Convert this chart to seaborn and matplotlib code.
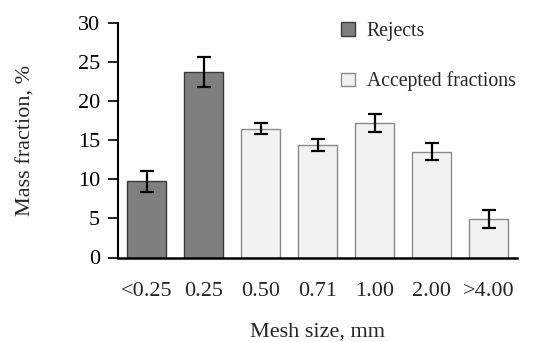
import matplotlib
matplotlib.use("Agg")
import matplotlib.pyplot as plt
import seaborn as sns
import pandas as pd
from matplotlib.patches import Patch

categories = ["<0.25", "0.25", "0.50", "0.71", "1.00", "2.00", ">4.00"]
values = [9.75, 23.75, 16.5, 14.4, 17.2, 13.55, 4.95]
errors = [1.35, 1.9, 0.7, 0.8, 1.1, 1.05, 1.15]
groups = ["Rejects", "Rejects", "Accepted fractions", "Accepted fractions",
          "Accepted fractions", "Accepted fractions", "Accepted fractions"]
yticks = [0, 5, 10, 15, 20, 25, 30]

sns.set_style("white")
plt.rcParams["font.family"] = ["Liberation Serif", "DejaVu Serif"]
plt.rcParams["font.size"] = 16

colors = {"Rejects": "#7f7f7f", "Accepted fractions": "#f2f2f2"}
edges = {"Rejects": "#3a3a3a", "Accepted fractions": "#8a8a8a"}

df = pd.DataFrame({"cat": categories, "val": values, "grp": groups})

fig = plt.figure(figsize=(5.39, 3.42), dpi=100)
ax = fig.add_axes([118 / 539, 1 - 257.5 / 342, (517 - 118) / 539, (257.5 - 23) / 342])
sns.barplot(data=df, x="cat", y="val", hue="grp", palette=colors, dodge=False,
            width=0.68, ax=ax, legend=False, errorbar=None)
for p, g in zip(sorted(ax.patches, key=lambda r: r.get_x()), groups):
    p.set_edgecolor(edges[g])
    p.set_linewidth(1.0)
ax.errorbar(range(len(categories)), values, yerr=errors, fmt="none",
            ecolor="black", elinewidth=1.6, capsize=5, capthick=1.6, zorder=5)

ax.set_xlim(-0.5, 6.5)
ax.set_ylim(0, 30)
ax.set_yticks(yticks)
ax.set_yticklabels([str(t) for t in yticks])
sns.despine(ax=ax)
ax.spines["left"].set_linewidth(1.5)
ax.spines["bottom"].set_linewidth(1.8)
ax.spines["left"].set_color("black")
ax.spines["bottom"].set_color("black")
ax.tick_params(axis="y", which="both", left=True, length=7, width=1.2, direction="out", pad=6, colors="black")
ax.tick_params(axis="x", bottom=False, pad=14)
ax.set_xlabel("Mesh size, mm", labelpad=16)
ax.set_ylabel("Mass fraction, %", labelpad=30)

handles = [Patch(facecolor=colors[g], edgecolor=edges[g], label=g)
           for g in ["Rejects", "Accepted fractions"]]
fig.legend(handles=handles, loc="upper left", bbox_to_anchor=(333 / 539, 1 - 14 / 342),
           frameon=False, handlelength=0.7, handleheight=0.7, handletextpad=0.6,
           labelspacing=1.55, fontsize=14.2, borderaxespad=0)

fig.savefig("out.png", dpi=100)
